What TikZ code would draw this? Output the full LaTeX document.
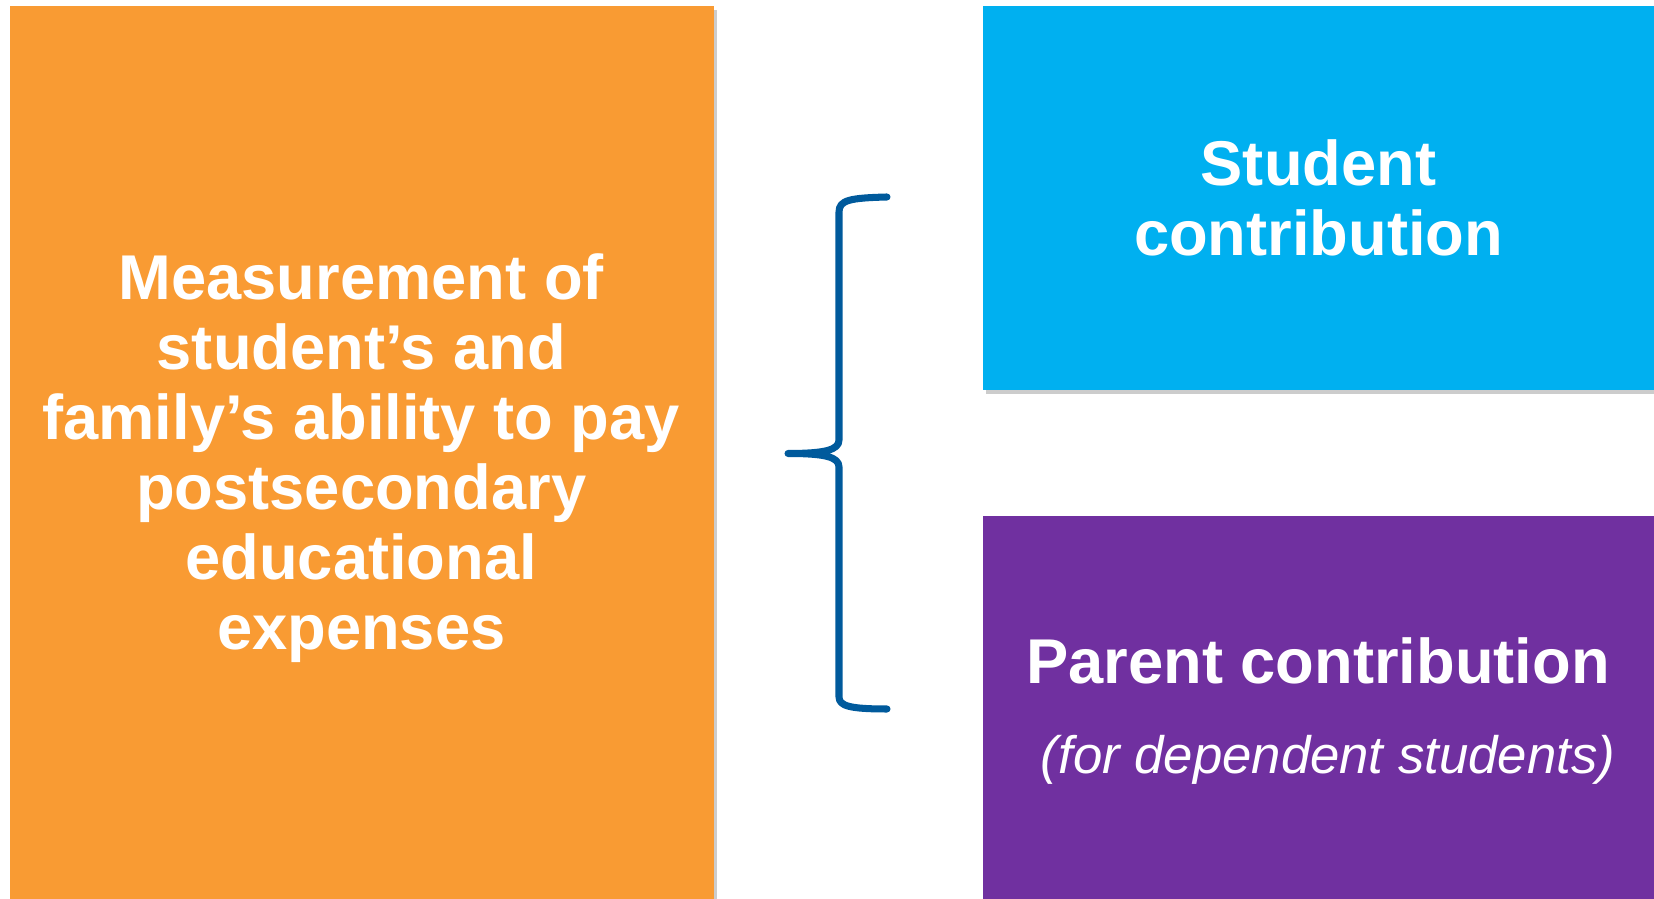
\documentclass[tikz,border=0pt]{standalone}
\usepackage{fontspec}
\setmainfont{Liberation Sans}
\usetikzlibrary{shadows}
\definecolor{measureorange}{HTML}{F99B33}
\definecolor{studentblue}{HTML}{00B0F0}
\definecolor{parentpurple}{HTML}{7030A0}
\definecolor{bracenavy}{HTML}{005A9C}

\begin{document}
\begin{tikzpicture}[
    box/.style={rectangle, inner sep=0pt, text=white, align=center,
      font=\bfseries\fontsize{18}{19.9}\selectfont,
      drop shadow={shadow xshift=0.03cm, shadow yshift=-0.04cm, opacity=0.2, fill=black}},
    boxtext/.style={inner sep=0pt, text=white, font=\bfseries\fontsize{18}{19.9}\selectfont},
    notetext/.style={inner sep=0pt, text=white, font=\itshape\fontsize{15}{18}\selectfont},
    brace/.style={bracenavy, line width=2pt, line cap=round, line join=round}]
      \useasboundingbox (0,0) rectangle (16.54,-8.99) ;
      % left box
      \node[box, fill=measureorange, minimum width=7.035cm, minimum height=8.93cm] %
      (measure) at (3.6225,-4.525) {} ;
      \node[boxtext, align=center] (measureTxt) at (3.6125,-4.58) {Measurement of\\student’s and\\family’s ability to pay\\postsecondary\\educational\\expenses} ;
      % right boxes
      \node[box, fill=studentblue, minimum width=6.71cm, minimum height=3.84cm] %
      (student) at (13.185,-1.98) {Student\\contribution} ;
      \node[box, fill=parentpurple, minimum width=6.71cm, minimum height=3.83cm] %
      (parent) at (13.185,-7.075) {} ;
      \node[boxtext, anchor=base] (parentTxt) at (13.18,-6.84) {Parent contribution} ;
      \node[notetext, anchor=base] (parentNote) at (13.28,-7.74) {(for dependent students)} ;
      % brace
      \coordinate (braceTop) at (8.87,-1.97) ;
      \coordinate (braceTip) at (7.88,-4.535) ;
      \coordinate (braceBot) at (8.87,-7.09) ;
      \draw[brace] (braceTop) .. controls (8.50,-1.98) and (8.39,-2.00) .. (8.39,-2.12)
        -- (8.39,-4.40) .. controls (8.39,-4.50) and (8.25,-4.535) .. (braceTip)
        .. controls (8.25,-4.535) and (8.39,-4.57) .. (8.39,-4.67)
        -- (8.39,-6.97) .. controls (8.39,-7.06) and (8.50,-7.09) .. (braceBot) ;
    \end{tikzpicture}
\end{document}
